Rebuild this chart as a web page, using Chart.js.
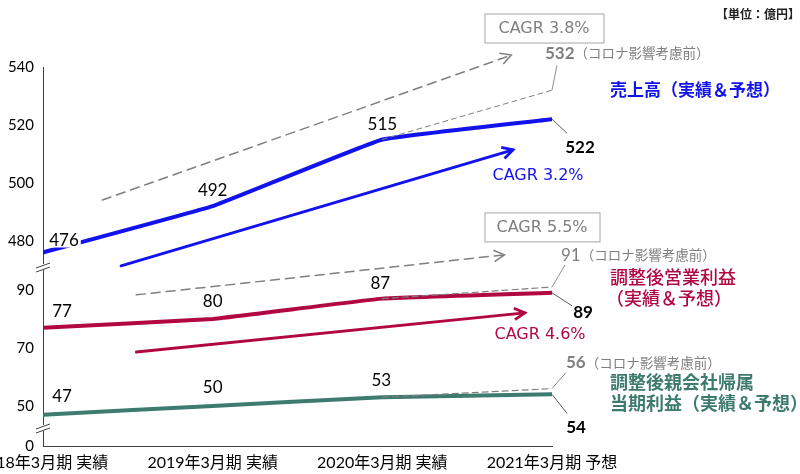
<!DOCTYPE html>
<html>
<head>
<meta charset="utf-8">
<script src="https://cdn.jsdelivr.net/npm/chart.js@4"></script>
<style>
  body { margin: 0; background: #fff; }
  #wrap { width: 800px; height: 474px; }
</style>
</head>
<body>
<div id="wrap"><canvas id="c"></canvas></div>
<script>
// categories and values (億円)
const categories = ["2018年3月期 実績", "2019年3月期 実績", "2020年3月期 実績", "2021年3月期 予想"];
const sales = [476, 492, 515, 522];
const opProfit = [77, 80, 87, 89];
const netProfit = [47, 50, 53, 54];
// before covid impact (2021 forecast)
const salesPre = 532;
const opPre = 91;
const netPre = 56;
// CAGR trend arrows: [start, end] as {x: category index, y: value}
const salesTrend = [{ x: 0.46, y: 471.4 }, { x: 2.77, y: 511.4 }];
const salesPreTrend = [{ x: 0.35, y: 494.1 }, { x: 2.76, y: 544.1 }];
const opTrend = [{ x: 0.55, y: 68.6 }, { x: 2.84, y: 82.1 }];
const opPreTrend = [{ x: 0.55, y: 88.3 }, { x: 2.72, y: 102.1 }];
// axis ticks
const topTicks = [480, 500, 520, 540];
const lowTicks = [50, 70, 90];

const BLUE = "#1212ee", RED = "#b0083f", GREEN = "#3e7b6f", GRAY = "#7f7f7f";
const NUM = "Lato, 'Noto Sans CJK JP', sans-serif";
const JP = "'Noto Sans CJK JP', sans-serif";
const LAT = "'DejaVu Sans', sans-serif";
const LOW_MIN = 36.2;

const pts = (arr) => arr.map((v, i) => ({ x: i, y: v }));

function line(data, axis, color, width, extra) {
  return Object.assign({
    data: data, yAxisID: axis, borderColor: color, borderWidth: width,
    pointRadius: 0, fill: false, tension: 0, borderCapStyle: "round", borderJoinStyle: "round"
  }, extra || {});
}

const datasets = [
  line(salesPreTrend, "yTop", GRAY, 1.5, { borderDash: [9, 6], clip: false, arrow: true }),
  line(opPreTrend, "yLow", GRAY, 1.5, { borderDash: [9, 6], clip: false, arrow: true }),
  line([{ x: 2, y: sales[2] }, { x: 3, y: salesPre }], "yTop", GRAY, 1, { borderDash: [5, 4] }),
  line([{ x: 2, y: opProfit[2] }, { x: 3, y: opPre }], "yLow", GRAY, 1.2, { borderDash: [6, 4] }),
  line([{ x: 2, y: netProfit[2] }, { x: 3, y: netPre }], "yLow", GRAY, 1.2, { borderDash: [6, 4] }),
  line(salesTrend, "yTop", BLUE, 2.8, { clip: false, arrow: true }),
  line(opTrend, "yLow", RED, 2.8, { arrow: true }),
  line(pts(sales), "yTop", BLUE, 4, { tension: 0.08 }),
  line(pts(opProfit), "yLow", RED, 4, { tension: 0.08 }),
  line(pts(netProfit), "yLow", GREEN, 4, { tension: 0.08 })
];

function txt(ctx, s, x, y, font, color, align) {
  ctx.font = font;
  ctx.fillStyle = color;
  ctx.textAlign = align || "center";
  ctx.textBaseline = "middle";
  ctx.fillText(s, x, y);
}
function seg(ctx, x1, y1, x2, y2, color, w) {
  ctx.beginPath();
  ctx.moveTo(x1, y1);
  ctx.lineTo(x2, y2);
  ctx.strokeStyle = color;
  ctx.lineWidth = w;
  ctx.setLineDash([]);
  ctx.stroke();
}

const annotate = {
  id: "annotate",
  afterDatasetsDraw(chart) {
    const ctx = chart.ctx;
    const X = chart.scales.x, T = chart.scales.yTop, L = chart.scales.yLow;
    ctx.save();

    // arrowheads
    chart.data.datasets.forEach((ds, i) => {
      if (!ds.arrow) return;
      const d = chart.getDatasetMeta(i).data;
      const a = d[d.length - 2], b = d[d.length - 1];
      const ang = Math.atan2(b.y - a.y, b.x - a.x);
      const len = 12;
      ctx.beginPath();
      ctx.moveTo(b.x - len * Math.cos(ang - 0.5), b.y - len * Math.sin(ang - 0.5));
      ctx.lineTo(b.x, b.y);
      ctx.lineTo(b.x - len * Math.cos(ang + 0.5), b.y - len * Math.sin(ang + 0.5));
      ctx.strokeStyle = ds.borderColor;
      ctx.lineWidth = ds.borderWidth;
      ctx.setLineDash([]);
      ctx.lineJoin = "miter";
      ctx.stroke();
    });

    // value labels for actual years
    const labelRows = [
      [sales, T, [[21, -12], [0, -16], [0, -15]]],
      [opProfit, L, [[19, -16], [0, -17], [-2, -15]]],
      [netProfit, L, [[19, -18], [0, -18], [-1, -17]]]
    ];
    labelRows.forEach(([vals, sc, offs]) => {
      offs.forEach((o, i) => {
        const x = X.getPixelForValue(i) + o[0], y = sc.getPixelForValue(vals[i]) + o[1];
        ctx.font = "17px " + NUM;
        const w = ctx.measureText(String(vals[i])).width;
        ctx.fillStyle = "#fff";
        ctx.fillRect(x - w / 2 - 2, y - 9, w + 4, 16);
        txt(ctx, String(vals[i]), x, y, "17px " + NUM, "#000");
      });
    });

    const R = X.getPixelForValue(3);
    // forecast values with leaders
    [[sales[3], T, 15, 14, 28, 28], [opProfit[3], L, 20, 13, 31, 20], [netProfit[3], L, 15, 19, 24, 33]]
      .forEach(([v, sc, lx, ly, tx, ty]) => {
        const y = sc.getPixelForValue(v);
        seg(ctx, R, y, R + lx, y + ly, "#595959", 1);
        txt(ctx, String(v), R + tx, y + ty, "bold 17px " + NUM, "#000");
      });
    // pre-covid values with leaders
    [[salesPre, T, 5, -25, -7, -37, "bold"], [opPre, L, 13, -22, 9, -32, "normal"], [netPre, L, 14, -16, 14, -26, "bold"]]
      .forEach(([v, sc, lx, ly, tx, ty, wt]) => {
        const y = sc.getPixelForValue(v);
        seg(ctx, R, y, R + lx, y + ly, "#8c8c8c", 1);
        txt(ctx, String(v), R + tx, y + ty, wt + " 17px " + NUM, GRAY, "left");
        ctx.font = wt + " 17px " + NUM;
        const w = ctx.measureText(String(v)).width;
        txt(ctx, "（コロナ影響考慮前）", R + tx + w, y + ty, "13.5px " + JP, GRAY, "left");
      });

    // CAGR boxes and labels
    const box = (s, cx, cy, w, h) => {
      ctx.strokeStyle = "#a6a6a6";
      ctx.lineWidth = 1;
      ctx.setLineDash([]);
      ctx.strokeRect(cx - w / 2 + 0.5, cy - h / 2 + 0.5, w, h);
      txt(ctx, s, cx, cy + 1, "16px " + LAT, GRAY);
    };
    box("CAGR 3.8%", R - 8, T.top - 39, 119, 29);
    box("CAGR 5.5%", R - 10, T.getPixelForValue(480) - 14, 115, 29);
    txt(ctx, "CAGR 3.2%", R - 14, T.getPixelForValue(480) - 65, "16px " + LAT, BLUE);
    txt(ctx, "CAGR 4.6%", R - 12, L.getPixelForValue(74.5), "16px " + LAT, RED);

    // series titles
    txt(ctx, "売上高（実績＆予想）", R + 58, T.getPixelForValue(540) + 23, "bold 17px " + JP, BLUE, "left");
    txt(ctx, "調整後営業利益", R + 58, L.getPixelForValue(90) - 13, "500 18px " + JP, RED, "left");
    txt(ctx, "（実績＆予想）", R + 54, L.getPixelForValue(90) + 8, "500 18px " + JP, RED, "left");
    txt(ctx, "調整後親会社帰属", R + 58, L.getPixelForValue(50) - 24, "bold 18px " + JP, GREEN, "left");
    txt(ctx, "当期利益（実績＆予想）", R + 58, L.getPixelForValue(50) - 3, "bold 18px " + JP, GREEN, "left");
    txt(ctx, "【単位：億円】", chart.width, 14, "bold 12px " + JP, "#222", "right");

    // axis breaks
    const brk = (y) => {
      const x = X.left;
      ctx.fillStyle = "#fff";
      ctx.fillRect(x - 2, y - 3, 4, 6);
      seg(ctx, x - 7, y + 1, x + 7, y - 4, "#404040", 1);
      seg(ctx, x - 7, y + 5, x + 7, y, "#404040", 1);
    };
    brk(T.bottom);
    brk((L.getPixelForValue(50) + L.bottom) / 2 + 2);
    ctx.restore();
  }
};

const yCommon = {
  type: "linear",
  position: "left",
  stack: "y",
  grid: { display: false, drawTicks: false },
  border: { color: "#404040", width: 1 },
  ticks: { color: "#000", padding: 9, font: { family: NUM, size: 15 } },
  afterFit: (s) => { s.width = 43; s.paddingTop = 0; s.paddingBottom = 0; }
};

new Chart(document.getElementById("c"), {
  type: "line",
  data: { datasets: datasets },
  plugins: [annotate],
  options: {
    responsive: true,
    maintainAspectRatio: false,
    animation: false,
    layout: { padding: { left: 0, right: 248, top: 67, bottom: 0 } },
    plugins: { legend: { display: false }, tooltip: { enabled: false } },
    scales: {
      x: {
        type: "linear",
        min: 0,
        max: 3,
        grid: { display: false, drawTicks: false },
        border: { color: "#404040", width: 1 },
        ticks: {
          stepSize: 1,
          maxRotation: 0,
          minRotation: 0,
          padding: 7,
          color: "#000",
          font: { family: NUM, size: 16 },
          callback: (v) => categories[v]
        },
        afterFit: (s) => { s.height = 28; s.paddingLeft = 0; s.paddingRight = 0; }
      },
      yLow: Object.assign({}, yCommon, {
        min: LOW_MIN,
        max: 97.9,
        stackWeight: 179,
        afterBuildTicks: (s) => { s.ticks = [LOW_MIN].concat(lowTicks).map((v) => ({ value: v })); },
        ticks: Object.assign({}, yCommon.ticks, { callback: (v) => (v === LOW_MIN ? "0" : v) })
      }),
      yTop: Object.assign({}, yCommon, {
        min: 471,
        max: 540,
        stackWeight: 200,
        afterBuildTicks: (s) => { s.ticks = topTicks.map((v) => ({ value: v })); }
      })
    }
  }
});
</script>
</body>
</html>
